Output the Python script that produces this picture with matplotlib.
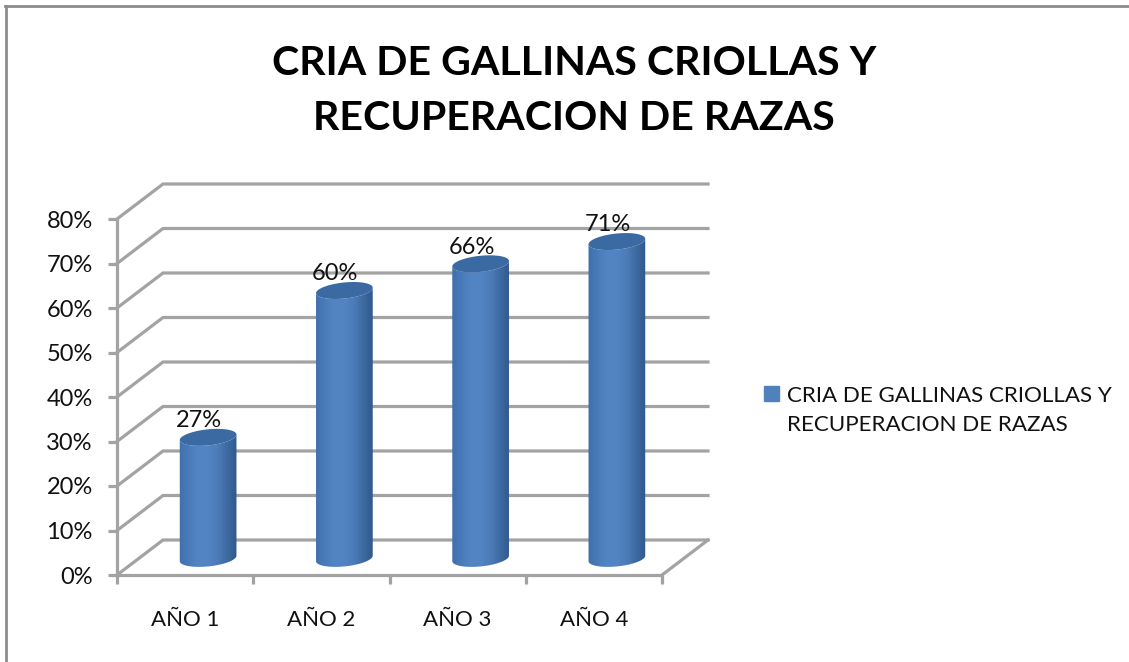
"""Cylinder column chart: cria de gallinas criollas."""

import matplotlib
matplotlib.use("Agg")
import matplotlib.pyplot as plt
import numpy as np
from matplotlib.colors import LinearSegmentedColormap
from matplotlib.lines import Line2D
from matplotlib.patches import Patch, Polygon

plt.rcParams["font.family"] = ["Lato", "DejaVu Sans"]

TITLE = "CRIA DE GALLINAS CRIOLLAS Y\nRECUPERACION DE RAZAS"
SERIES_NAME = "CRIA DE GALLINAS CRIOLLAS Y\nRECUPERACION DE RAZAS"
CATEGORIES = ["AÑO 1", "AÑO 2", "AÑO 3", "AÑO 4"]
VALUES = [27, 60, 66, 71]
Y_TICKS = [0, 10, 20, 30, 40, 50, 60, 70, 80]

GRID = "#a3a3a3"
BORDER = "#8c8c8c"
INK = "#111111"
TOP_CAP = "#3b6aa3"
LEGEND_BLUE = "#4f81bd"
SIDE = LinearSegmentedColormap.from_list(
    "cyl", ["#3f6fab", "#4a7bb9", "#5385c4", "#5284c3", "#4c7cb8", "#3d6aa2", "#30598b"])

W, H = 1129, 662
PX_X = 136.25  # pixels per category
PX_Y = 4.45  # pixels per percent
DEPTH_X = 46 / PX_X
DEPTH_Y = 35 / PX_Y

fig = plt.figure(figsize=(W / 100, H / 100), dpi=100, facecolor="white")
ax = fig.add_axes([117 / W, (H - 575) / H, 545 / W, 356 / H])
ax.set_xlim(0, 4)
ax.set_ylim(0, 80)
ax.patch.set_alpha(0)

# outer frame, only top and left reach the picture
fig.add_artist(Line2D([5.5 / W, 5.5 / W], [0, (H - 6) / H], color=BORDER, lw=2))
fig.add_artist(Line2D([5 / W, 1], [(H - 6) / H, (H - 6) / H], color=BORDER, lw=2))

for tick in Y_TICKS:
    ax.plot([0, DEPTH_X, 4 + DEPTH_X], [tick, tick + DEPTH_Y, tick + DEPTH_Y],
            color=GRID, lw=2.3, clip_on=False, zorder=1, solid_joinstyle="miter")
ax.plot([4, 4 + DEPTH_X], [0, DEPTH_Y], color=GRID, lw=2.3, clip_on=False, zorder=1)


def ellipse(cx, cy, t):
    # tilted ellipse, worked out in pixels then put back in data units
    a, b, tilt = 28.5, 8.0, np.radians(6)
    px = a * np.cos(t) * np.cos(tilt) - b * np.sin(t) * np.sin(tilt)
    py = a * np.cos(t) * np.sin(tilt) + b * np.sin(t) * np.cos(tilt)
    return cx + px / PX_X, cy + py / PX_Y


def cylinder(center, value):
    cx = center + DEPTH_X / 2
    base = DEPTH_Y / 2 - 0.2
    top = value + DEPTH_Y / 2
    t_low = np.linspace(np.pi, 2 * np.pi, 60)
    low_x, low_y = ellipse(cx, base, t_low)
    up_x, up_y = ellipse(cx, top, t_low[::-1])
    body = Polygon(np.column_stack([np.r_[low_x, up_x], np.r_[low_y, up_y]]),
                   closed=True, transform=ax.transData, fc="none", ec="none")
    ax.add_patch(body)
    half = 29 / PX_X
    img = ax.imshow(np.linspace(0, 1, 256)[None, :], cmap=SIDE, aspect="auto",
                    extent=[cx - half, cx + half, base - 3, top + 3],
                    zorder=3, clip_on=True)
    img.set_clip_path(body)
    t = np.linspace(0, 2 * np.pi, 120)
    cap_x, cap_y = ellipse(cx, top, t)
    ax.fill(cap_x, cap_y, color=TOP_CAP, lw=0, zorder=4, clip_on=False)
    ax.annotate(f"{value}%", (cx, top), xytext=(-6.5, 12), textcoords="offset points",
                ha="center", va="center", fontsize=17, color=INK, zorder=5)


centers = [i + 0.5 for i in range(len(CATEGORIES))]
for center, value in zip(centers, VALUES):
    cylinder(center, value)
ax.set_xlim(0, 4)
ax.set_ylim(0, 80)

for name in ("top", "right"):
    ax.spines[name].set_visible(False)
for name in ("left", "bottom"):
    ax.spines[name].set_color(GRID)
    ax.spines[name].set_linewidth(2.3)
    ax.spines[name].set_zorder(2)

ax.set_yticks(Y_TICKS)
ax.set_yticklabels([f"{t}%" for t in Y_TICKS])
ax.set_xticks(range(len(CATEGORIES) + 1))
ax.set_xticklabels([])
ax.set_xticks(centers, CATEGORIES, minor=True)
ax.tick_params(axis="both", which="major", length=6.5, width=2.3, color=GRID,
               labelsize=17, labelcolor=INK)
ax.tick_params(axis="y", pad=11)
ax.tick_params(axis="x", which="minor", length=0, pad=25.5, labelsize=16, labelcolor=INK)

fig.text(574 / W, 1 - 91 / H, TITLE, ha="center", va="center", fontsize=29.6,
         fontweight="bold", color="black", linespacing=1.58)

leg = fig.legend(handles=[Patch(color=LEGEND_BLUE, label=SERIES_NAME)],
                 loc="upper left", bbox_to_anchor=(757 / W, 1 - 379 / H), frameon=False,
                 fontsize=16.1, handlelength=0.68, handleheight=0.68, handletextpad=0.35,
                 labelcolor=INK, borderpad=0.3, borderaxespad=0)
leg.get_texts()[0].set_linespacing(1.55)
handle = leg.legend_handles[0]
handle.set_y(handle.get_y() + 12)  # sits beside the first line of the label

fig.savefig("out.png", dpi=100)
